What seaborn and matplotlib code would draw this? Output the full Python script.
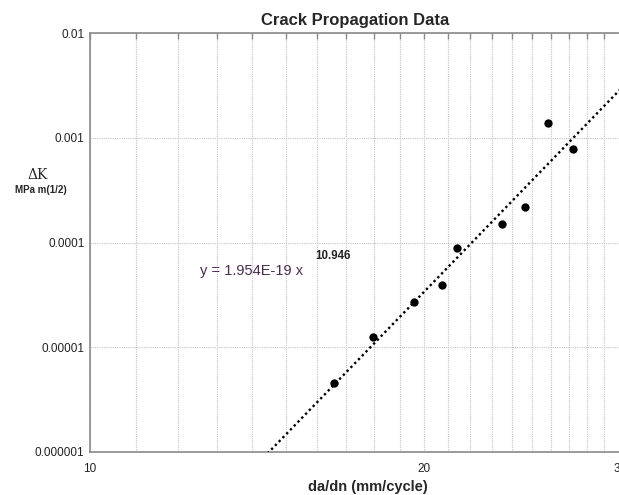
import numpy as np
import pandas as pd
import matplotlib
matplotlib.use("Agg")
import matplotlib.pyplot as plt
import matplotlib.ticker as mticker
import seaborn as sns

# Data
da_dn = [16.58, 17.99, 19.58, 20.73, 21.38, 23.48, 24.62, 25.85, 27.19]
delta_k = [4.53e-6, 1.25e-5, 2.69e-5, 3.96e-5, 8.80e-5, 1.50e-4, 2.18e-4, 1.37e-3, 7.81e-4]
fit_coef = 1.954e-19
fit_exp = 10.946
fit_x_ends = [14.0, 30.0]
y_ticks = [1e-6, 1e-5, 1e-4, 1e-3, 1e-2]
y_tick_labels = ["0.000001", "0.00001", "0.0001", "0.001", "0.01"]
x_ticks = [10, 20, 30]
x_tick_labels = ["10", "20", "30"]

sns.set_style("white")
plt.rcParams['font.family'] = ['Liberation Sans', 'DejaVu Sans']

fig = plt.figure(figsize=(6.19, 4.95), dpi=100)
ax = fig.add_axes([90/619, 43/495, 530/619, 419/495])

df = pd.DataFrame({"x": da_dn, "y": delta_k})
fit_df = pd.DataFrame({"x": fit_x_ends,
                       "y": [fit_coef * v ** fit_exp for v in fit_x_ends]})

ax.set_xscale("log")
ax.set_yscale("log")

sns.lineplot(data=fit_df, x="x", y="y", ax=ax, color="black",
             linestyle=(0, (1, 1.3)), linewidth=1.7, zorder=3)
sns.scatterplot(data=df, x="x", y="y", ax=ax, color="black", s=36,
                edgecolor="black", linewidth=0, zorder=4)

ax.set_xlim(10, 30)
ax.set_ylim(1e-6, 1e-2)

ax.xaxis.set_major_locator(mticker.FixedLocator(x_ticks))
ax.xaxis.set_major_formatter(mticker.FixedFormatter(x_tick_labels))
ax.xaxis.set_minor_locator(mticker.FixedLocator(list(range(11, 20)) + list(range(21, 30))))
ax.xaxis.set_minor_formatter(mticker.NullFormatter())
ax.yaxis.set_major_locator(mticker.FixedLocator(y_ticks))
ax.yaxis.set_major_formatter(mticker.FixedFormatter(y_tick_labels))
ax.yaxis.set_minor_locator(mticker.NullLocator())

ax.grid(True, which="both", axis="x", color="#c4c4c4", linestyle=(0, (1, 1)), linewidth=0.8)
ax.grid(True, which="major", axis="y", color="#c4c4c4", linestyle=(0, (1, 1)), linewidth=0.8)
ax.set_axisbelow(True)

for side in ["left", "bottom", "top"]:
    ax.spines[side].set_color("#8a8a8a")
    ax.spines[side].set_linewidth(1.2)
ax.spines["right"].set_visible(False)

ax.tick_params(axis="both", which="both", direction="in", color="#8a8a8a",
               labelsize=8.5, labelcolor="#222222", top=True, right=False)
ax.tick_params(axis="both", which="major", length=4, width=1)
ax.tick_params(axis="x", which="minor", length=4, width=1)
ax.tick_params(axis="y", which="major", pad=4)
ax.tick_params(axis="x", which="major", pad=8)

ax.set_xlabel("da/dn (mm/cycle)", fontsize=10.5, fontweight="bold")
ax.xaxis.set_label_coords((368 - 90) / 530, -(487 - 452) / 419)
ax.xaxis.label.set_verticalalignment("center")
ax.set_ylabel("")
ax.set_title("Crack Propagation Data", fontsize=12, fontweight="bold", pad=6)

fig.text(38/619, 1 - 175/495, "ΔK", fontsize=10, family="DejaVu Serif",
         ha="center", va="center")
fig.text(41/619, 1 - 190/495, "MPa m(1/2)", fontsize=7, fontweight="bold",
         ha="center", va="center")

ax.text(12.56, 5.4e-5, "y = 1.954E-19 x", fontsize=10.5,
        color="#4b2c50", ha="left", va="center")
ax.text(15.95, 7.5e-5, "10.946", fontsize=8.3, fontweight="bold", color="#222222",
        ha="left", va="center")

fig.savefig("out.png", dpi=100)
